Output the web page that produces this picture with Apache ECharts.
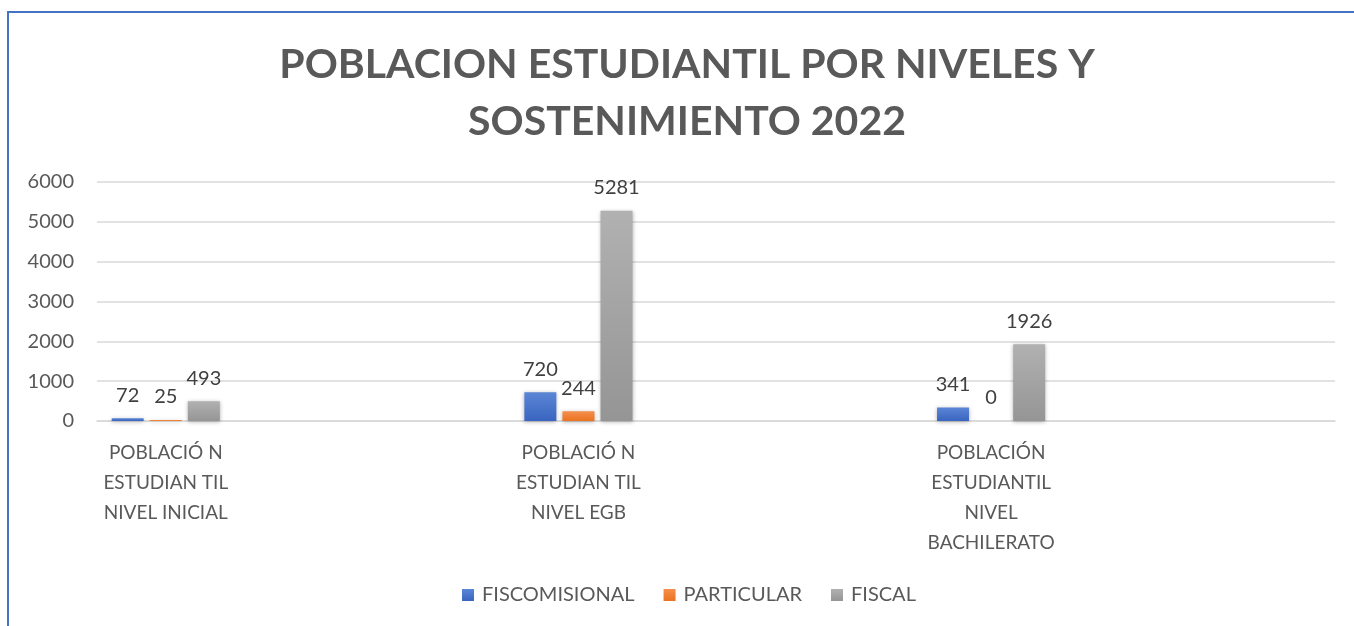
<!DOCTYPE html>
<html>
<head>
<meta charset="utf-8">
<script src="https://cdn.jsdelivr.net/npm/echarts@6/dist/echarts.min.js"></script>
<style>
  html, body { margin: 0; padding: 0; background: #fff; }
  #chart { width: 1354px; height: 626px; }
  #frame {
    position: absolute; left: 7px; top: 11px; right: 0; bottom: 0;
    border-top: 2px solid #4472c4; border-left: 2px solid #4472c4;
    pointer-events: none;
  }
</style>
</head>
<body>
<div id="chart"></div>
<div id="frame"></div>
<script>
const categories = [
  "POBLACIÓ N\nESTUDIAN TIL\nNIVEL INICIAL",
  "POBLACIÓ N\nESTUDIAN TIL\nNIVEL EGB",
  "POBLACIÓN\nESTUDIANTIL\nNIVEL\nBACHILERATO"
];
const fiscomisional = [72, 720, 341];
const particular = [25, 244, 0];
const fiscal = [493, 5281, 1926];
const yTicks = [0, 1000, 2000, 3000, 4000, 5000, 6000];

// the source sheet has two blank rows after each level
const pad = (arr, blank) => arr.flatMap(v => [v, blank, blank]);

const font = "Lato, 'Open Sans', sans-serif";
const grad = (top, bottom) => new echarts.graphic.LinearGradient(0, 0, 0, 1, [
  { offset: 0, color: top },
  { offset: 1, color: bottom }
]);

const label = {
  show: true,
  position: "top",
  distance: 13,
  fontSize: 20,
  color: "#404040",
  fontFamily: font
};
const itemShadow = {
  shadowBlur: 4,
  shadowColor: "rgba(0,0,0,0.3)",
  shadowOffsetY: 1
};

const chart = echarts.init(document.getElementById("chart"));
chart.setOption({
  animation: false,
  title: {
    text: "POBLACION ESTUDIANTIL POR NIVELES Y\nSOSTENIMIENTO 2022",
    left: 682,
    textAlign: "center",
    top: 31,
    textStyle: {
      fontSize: 41,
      fontWeight: "bold",
      color: "#595959",
      lineHeight: 57,
      fontFamily: font
    }
  },
  legend: {
    top: 580,
    left: 457,
    icon: "rect",
    itemWidth: 12,
    itemHeight: 12,
    itemGap: 29,
    textStyle: { fontSize: 20, color: "#595959", fontFamily: font, padding: [0, 0, 0, 3] }
  },
  grid: { left: 97, right: 19, top: 182, bottom: 205, containLabel: false },
  xAxis: {
    type: "category",
    data: pad(categories, ""),
    axisTick: { show: false },
    axisLine: { lineStyle: { color: "#d9d9d9", width: 1.5 } },
    axisLabel: {
      interval: 0,
      margin: 17,
      fontSize: 19,
      lineHeight: 30,
      color: "#595959",
      fontFamily: font
    }
  },
  yAxis: {
    type: "value",
    min: yTicks[0],
    max: yTicks[yTicks.length - 1],
    interval: 1000,
    axisLine: { show: false },
    axisTick: { show: false },
    splitLine: { lineStyle: { color: "#d9d9d9", width: 1.5 } },
    axisLabel: {
      margin: 23,
      fontSize: 20,
      color: "#595959",
      fontFamily: font,
      formatter: v => String(v)
    }
  },
  series: [
    {
      name: "FISCOMISIONAL",
      type: "bar",
      barWidth: 32,
      barGap: "19%",
      data: pad(fiscomisional, null),
      label,
      itemStyle: Object.assign({ color: grad("#5b86d6", "#3a65c0") }, itemShadow)
    },
    {
      name: "PARTICULAR",
      type: "bar",
      barWidth: 32,
      barGap: "19%",
      data: pad(particular, null),
      label,
      itemStyle: Object.assign({ color: grad("#f58f4c", "#ea7320") }, itemShadow)
    },
    {
      name: "FISCAL",
      type: "bar",
      barWidth: 32,
      barGap: "19%",
      data: pad(fiscal, null),
      label,
      itemStyle: Object.assign({ color: grad("#b1b1b1", "#959595") }, itemShadow)
    }
  ]
});
</script>
</body>
</html>
